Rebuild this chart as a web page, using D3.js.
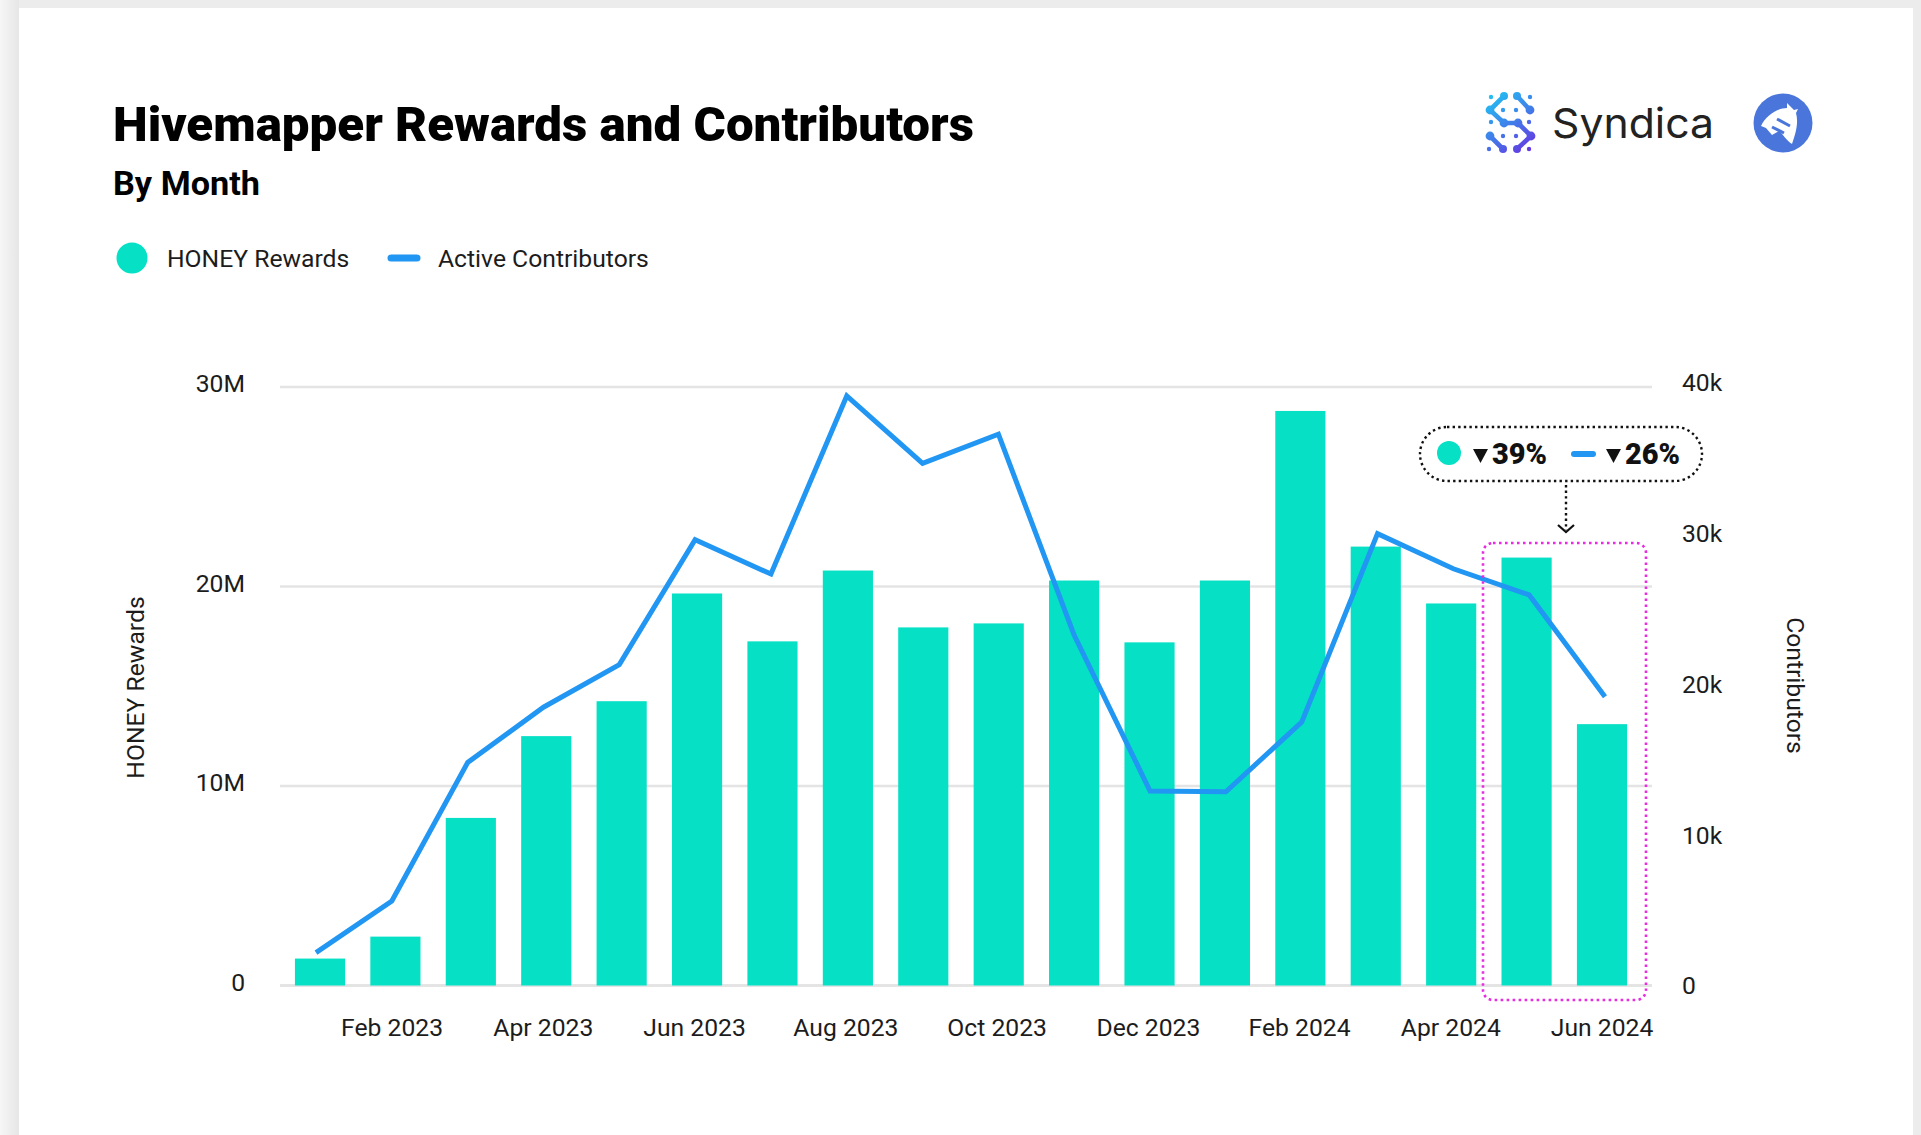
<!DOCTYPE html>
<html><head><meta charset="utf-8">
<style>html,body{margin:0;padding:0;background:#fff;overflow:hidden}svg{display:block}text{font-family:Roboto,sans-serif}</style>
<script src="https://cdn.jsdelivr.net/npm/d3@7/dist/d3.min.js"></script>
</head><body><svg id="c" width="1921" height="1135"></svg>
<script>
const months=["Jan 2023","Feb 2023","Mar 2023","Apr 2023","May 2023","Jun 2023","Jul 2023","Aug 2023","Sep 2023","Oct 2023","Nov 2023","Dec 2023","Jan 2024","Feb 2024","Mar 2024","Apr 2024","May 2024","Jun 2024"];
const honeyRewards=[1.35,2.45,8.4,12.5,14.25,19.65,17.25,20.8,17.95,18.15,20.3,17.2,20.3,28.8,22,19.15,21.45,13.1];
const activeContributors=[2.2,5.65,14.9,18.6,21.45,29.8,27.5,39.4,34.9,36.85,23.4,13,12.95,17.6,30.2,27.85,26.1,19.3];
const xTickLabels=["Feb 2023","Apr 2023","Jun 2023","Aug 2023","Oct 2023","Dec 2023","Feb 2024","Apr 2024","Jun 2024"];
const leftTicks=[0,10,20,30];
const rightTicks=[0,10,20,30,40];
const TEAL="#06e0c5",BLUE="#2196f3",INK="#1c1c1c",TICK=24.7;

const svg=d3.select("#c");
const defs=svg.append("defs");
const lg=defs.append("linearGradient").attr("id","edge");
lg.append("stop").attr("offset",0).attr("stop-color","#f6f6f6");
lg.append("stop").attr("offset",1).attr("stop-color","#e6e6e6");
const sg=defs.append("linearGradient").attr("id","logoG").attr("gradientUnits","userSpaceOnUse").attr("x1",1487).attr("y1",93).attr("x2",1533).attr("y2",152);
sg.append("stop").attr("offset",0).attr("stop-color","#1fc8f2");
sg.append("stop").attr("offset",.5).attr("stop-color","#3f80ea");
sg.append("stop").attr("offset",1).attr("stop-color","#6a2fe0");

svg.append("rect").attr("width",1921).attr("height",1135).attr("fill","#ececec");
svg.append("rect").attr("width",19).attr("height",1135).attr("fill","url(#edge)");
svg.append("rect").attr("x",19).attr("y",8).attr("width",1894).attr("height",1127).attr("fill","#fff");

const x=d3.scaleBand().domain(months).range([282.3,1639.7]).paddingInner(0.335).paddingOuter(0.1675);
const xLine=d3.scalePoint().domain(months).range([316,1605]);
const xLabel=d3.scalePoint().domain(xTickLabels).range([391.6,1601.6]);
const yL=d3.scaleLinear().domain([0,30]).range([985.5,387]);
const yR=d3.scaleLinear().domain([0,40]).range([985.5,387]);
const yRLabel=d3.scaleLinear().domain([0,40]).range([989,386]);

svg.append("g").selectAll("line").data(leftTicks).join("line")
 .attr("x1",280).attr("x2",1652).attr("y1",d=>yL(d)).attr("y2",d=>yL(d))
 .attr("stroke","#e4e4e4").attr("stroke-width",d=>d===0?3:2.5);

svg.append("g").selectAll("rect").data(months).join("rect")
 .attr("x",d=>x(d)).attr("width",x.bandwidth())
 .attr("y",(d,i)=>yL(honeyRewards[i])).attr("height",(d,i)=>yL(0)-yL(honeyRewards[i]))
 .attr("fill",TEAL);

const line=d3.line().x((d,i)=>xLine(months[i])).y(d=>yR(d));
svg.append("path").datum(activeContributors).attr("d",line).attr("fill","none")
 .attr("stroke",BLUE).attr("stroke-width",5).attr("stroke-linejoin","miter");

const axL=svg.append("g").attr("transform","translate(245,-3)").call(d3.axisLeft(yL).tickValues(leftTicks).tickSize(0).tickPadding(0).tickFormat(d=>d===0?"0":d+"M"));
const axR=svg.append("g").attr("transform","translate(1682,-3)").call(d3.axisRight(yRLabel).tickValues(rightTicks).tickSize(0).tickPadding(0).tickFormat(d=>d===0?"0":d+"k"));
const axB=svg.append("g").attr("transform","translate(0,1018.5)").call(d3.axisBottom(xLabel).tickSize(0).tickPadding(0));
[axL,axR,axB].forEach(a=>{a.select(".domain").remove();a.selectAll("text").attr("font-family","Roboto,sans-serif").attr("font-size",TICK).attr("fill",INK);});

svg.append("text").attr("transform","translate(144,687.5) rotate(-90)").attr("text-anchor","middle").attr("font-size",TICK).attr("fill",INK).text("HONEY Rewards");
svg.append("text").attr("transform","translate(1787,685.5) rotate(90)").attr("text-anchor","middle").attr("font-size",TICK).attr("fill",INK).text("Contributors");

svg.append("text").attr("x",113).attr("y",140.5).attr("font-size",49).attr("font-weight",900).attr("textLength",861).attr("lengthAdjust","spacingAndGlyphs").attr("fill","#000").text("Hivemapper Rewards and Contributors");
svg.append("text").attr("x",113).attr("y",194.5).attr("font-size",33).attr("font-weight",700).attr("textLength",147).attr("lengthAdjust","spacingAndGlyphs").attr("fill","#000").text("By Month");

svg.append("circle").attr("cx",132).attr("cy",258).attr("r",15.5).attr("fill",TEAL);
svg.append("text").attr("x",167).attr("y",266.5).attr("font-size",TICK).attr("fill",INK).text("HONEY Rewards");
svg.append("line").attr("x1",391).attr("x2",417).attr("y1",258).attr("y2",258).attr("stroke",BLUE).attr("stroke-width",7).attr("stroke-linecap","round");
svg.append("text").attr("x",438).attr("y",266.5).attr("font-size",TICK).attr("fill",INK).text("Active Contributors");

svg.append("rect").attr("x",1483).attr("y",543).attr("width",163).attr("height",457).attr("rx",10)
 .attr("fill","none").attr("stroke","#e62ee0").attr("stroke-width",2.6).attr("stroke-dasharray","2.6 3.4");

svg.append("rect").attr("x",1420).attr("y",427).attr("width",282).attr("height",54).attr("rx",27).attr("fill","#fff")
 .attr("stroke","#111").attr("stroke-width",2.4).attr("stroke-dasharray","2.4 3.2");
svg.append("circle").attr("cx",1449).attr("cy",453).attr("r",12).attr("fill",TEAL);
svg.append("path").attr("d","M1473,449H1488L1480.5,463Z").attr("fill","#111");
svg.append("text").attr("x",1492).attr("y",463.5).attr("font-size",29).attr("font-weight",900).attr("textLength",55).attr("lengthAdjust","spacingAndGlyphs").attr("fill","#111").text("39%");
svg.append("line").attr("x1",1574).attr("x2",1593).attr("y1",454).attr("y2",454).attr("stroke",BLUE).attr("stroke-width",6).attr("stroke-linecap","round");
svg.append("path").attr("d","M1606,449H1621L1613.5,463Z").attr("fill","#111");
svg.append("text").attr("x",1625).attr("y",463.5).attr("font-size",29).attr("font-weight",900).attr("textLength",55).attr("lengthAdjust","spacingAndGlyphs").attr("fill","#111").text("26%");
svg.append("line").attr("x1",1566).attr("x2",1566).attr("y1",485).attr("y2",530).attr("stroke","#111").attr("stroke-width",2.4).attr("stroke-dasharray","2.4 3.2");
svg.append("path").attr("d","M1558,525L1566,532L1574,525").attr("fill","none").attr("stroke","#111").attr("stroke-width",2.2);

const mark=svg.append("g").attr("fill","url(#logoG)").attr("stroke","url(#logoG)");
[[1491,97,2.2],[1530,97,2.2],[1504,96,4],[1517,96,4],[1503,110,2.2],[1516,110,2.2],[1491,122,2.2],[1529,122,2.2],[1503,136,2.2],[1516,136,2.2],[1489,149,2.2],[1529,149,2.2],[1503,149,4],[1517,149,4]]
 .forEach(d=>mark.append("circle").attr("cx",d[0]).attr("cy",d[1]).attr("r",d[2]).attr("stroke","none"));
mark.append("path").attr("fill","none").attr("stroke-width",4.6).attr("stroke-linecap","round").attr("stroke-linejoin","round")
 .attr("d","M1504,96L1490,110L1504,123M1517,96L1530,110M1504,123L1518,123L1531,136L1517,149M1490,136L1503,149");
[[1490,110],[1530,110],[1504,123],[1518,123],[1490,136],[1531,136]].forEach(d=>mark.append("circle").attr("cx",d[0]).attr("cy",d[1]).attr("r",4.4).attr("stroke","none"));
svg.append("text").attr("x",1552).attr("y",138).style("font-family","Inter,sans-serif").attr("font-size",41).attr("font-weight",400).attr("textLength",162).attr("lengthAdjust","spacingAndGlyphs").attr("fill","#222").text("Syndica");

svg.append("circle").attr("cx",1783).attr("cy",123).attr("r",29.5).attr("fill","#4a76dc");
svg.append("path").attr("fill","#fff").attr("d","M1761,126C1766,115 1778,108 1787,108L1787,103L1794,110L1798,109L1796,113C1799,124 1795,135 1792,144C1786,140 1783,134 1779,131L1772,135L1766,128Z");
svg.append("path").attr("fill","none").attr("stroke","#4a76dc").attr("stroke-width",3).attr("d","M1777,119L1790,126M1772,127L1784,133");
</script></body></html>
